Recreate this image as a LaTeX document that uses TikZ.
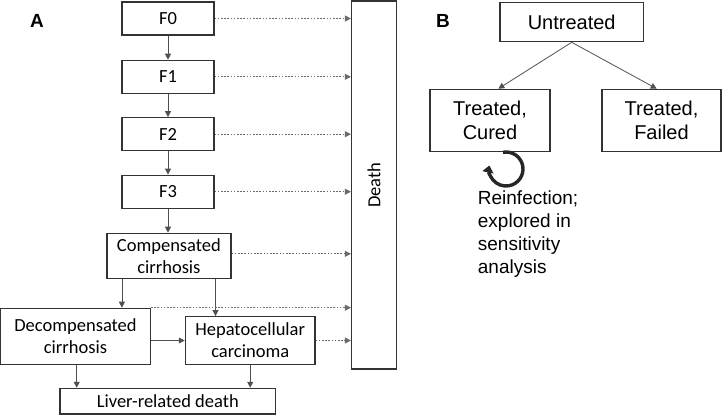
\documentclass[tikz,border=0pt]{standalone}
\usepackage{fontspec}
\setmainfont{Liberation Sans}
\newfontfamily\calib{Carlito}
\usetikzlibrary{arrows.meta}
\definecolor{boxc}{HTML}{333333}
\definecolor{arrc}{HTML}{505050}
\definecolor{dotc}{HTML}{6A6A6A}
\begin{document}
\begin{tikzpicture}[x=1pt,y=-1pt,
  abox/.style={draw=boxc, line width=1.2pt, inner sep=0pt, align=center,
    font=\calib\fontsize{18.5}{22}\selectfont},
  bbox/.style={draw=boxc, line width=1.2pt, inner sep=0pt, align=center,
    font=\fontsize{20}{24}\selectfont},
  arr/.style={draw=arrc, line width=0.8pt, -{Triangle[width=6pt,length=6pt]}},
  dotarr/.style={draw=dotc, line width=0.9pt, dash pattern=on 1.6pt off 1.6pt, -{Triangle[width=6pt,length=6pt]}},
  lbl/.style={font=\bfseries\fontsize{19}{22}\selectfont}
]
\useasboundingbox (0,0) rectangle (722,416);

% Panel A
\node[lbl] (la) at (37,21) {A};
\node[abox, minimum width=92, minimum height=33] (f0) at (168,18.5) {F0};
\node[abox, minimum width=92, minimum height=33] (f1) at (168,76.8) {F1};
\node[abox, minimum width=92, minimum height=33] (f2) at (168,134.2) {F2};
\node[abox, minimum width=92, minimum height=33] (f3) at (168,191.7) {F3};
\node[abox, minimum width=124, minimum height=45] (comp) at (168.9,255.8) {Compensated\\cirrhosis};
\node[abox, minimum width=149.6, minimum height=56] (decomp) at (75.5,336.3) {Decompensated\\cirrhosis};
\node[abox, minimum width=129.7, minimum height=47.6] (hep) at (250.2,340.5) {Hepatocellular\\carcinoma};
\node[abox, minimum width=215.7, minimum height=25.7] (liver) at (167.8,401.2) {Liver-related death};
\node[abox, minimum width=368, minimum height=45, rotate=90] (death) at (374,185) {Death};

\draw[arr] (f0.south) -- (f1.north);
\draw[arr] (f1.south) -- (f2.north);
\draw[arr] (f2.south) -- (f3.north);
\draw[arr] (f3.south) -- (f3.south |- comp.north);
\draw[arr] ([xshift=15.6]comp.south west) -- ([xshift=15.6]comp.south west |- decomp.north);
\draw[arr] ([xshift=-16]comp.south east) -- ([xshift=-16]comp.south east |- hep.north);
\draw[arr] (decomp.east |- hep.west) -- (hep.west);
\draw[arr] ([xshift=1.2]decomp.south) -- ([xshift=1.2]decomp.south |- liver.north);
\draw[arr] (hep.south) -- (hep.south |- liver.north);

\draw[dotarr] (f0.east) -- (f0.east -| death.north);
\draw[dotarr] (f1.east) -- (f1.east -| death.north);
\draw[dotarr] (f2.east) -- (f2.east -| death.north);
\draw[dotarr] (f3.east) -- (f3.east -| death.north);
\draw[dotarr] ([yshift=2]comp.east) -- ([yshift=2]comp.east -| death.north);
\draw[dotarr] (decomp.north east) -- (decomp.north east -| death.north);
\draw[dotarr] (hep.east) -- (hep.east -| death.north);

% Panel B
\node[lbl] (lb) at (443,21) {B};
\node[bbox, minimum width=143.3, minimum height=39] (untr) at (571.7,22.2) {Untreated};
\node[bbox, minimum width=120, minimum height=62.4] (cured) at (490,120.5) {Treated,\\Cured};
\node[bbox, minimum width=119, minimum height=62.4] (failed) at (661.5,120.5) {Treated,\\Failed};
\draw[arr] (untr.south) -- ([xshift=8.3]cured.north);
\draw[arr] (untr.south) -- ([xshift=-4.8]failed.north);

\coordinate (loop) at (506,169);
\draw[draw=black!85, line width=3.4pt, -{Triangle[width=11pt,length=7pt]}]
  ([shift={(-100:17)}]loop) arc[start angle=-100, end angle=192, radius=17];
\node[anchor=north west, inner sep=0pt, align=left,
  font=\fontsize{19}{22.7}\selectfont] (reinf) at (477.7,191)
  {Reinfection;\\explored in\\sensitivity\\analysis};
\end{tikzpicture}
\end{document}
